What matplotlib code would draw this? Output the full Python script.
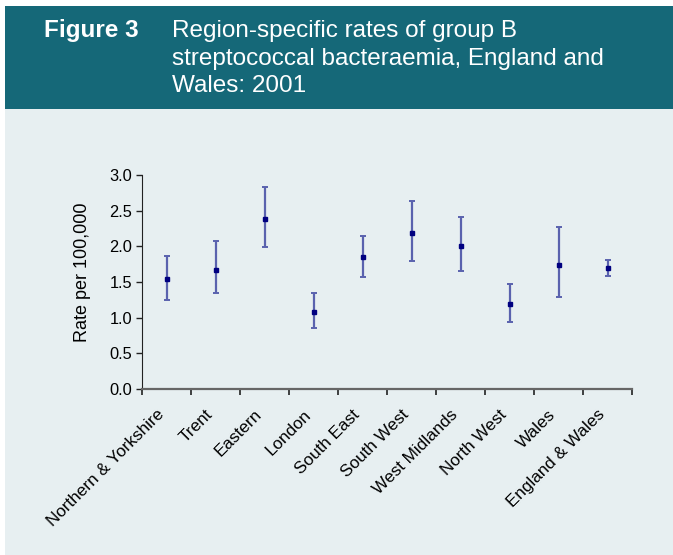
import numpy as np
import matplotlib
matplotlib.use("Agg")
import matplotlib.pyplot as plt
from matplotlib.patches import Rectangle
from matplotlib.transforms import ScaledTranslation

plt.rcParams['font.family'] = ['Liberation Sans', 'DejaVu Sans']

regions = ["Northern & Yorkshire", "Trent", "Eastern", "London", "South East",
           "South West", "West Midlands", "North West", "Wales", "England & Wales"]
rate = [1.54, 1.67, 2.38, 1.08, 1.85, 2.19, 2.01, 1.19, 1.74, 1.70]
ci_low = [1.25, 1.34, 1.99, 0.86, 1.57, 1.80, 1.65, 0.94, 1.29, 1.59]
ci_high = [1.87, 2.07, 2.83, 1.34, 2.15, 2.64, 2.42, 1.47, 2.27, 1.81]
yticks = [0.0, 0.5, 1.0, 1.5, 2.0, 2.5, 3.0]

title_lines = ["Region-specific rates of group B",
               "streptococcal bacteraemia, England and",
               "Wales: 2001"]

W, H = 673, 555
fig = plt.figure(figsize=(W/100, H/100), dpi=100)
fig.patch.set_facecolor('white')

# header band and light panel
fig.patches.append(Rectangle((5/W, 0), 1-5/W, (H-109)/H, transform=fig.transFigure,
                             facecolor='#e7eff1', edgecolor='none', zorder=-10))
fig.patches.append(Rectangle((5/W, (H-109)/H), 1-5/W, 103/H, transform=fig.transFigure,
                             facecolor='#156878', edgecolor='none', zorder=-10))

fig.text(44/W, 1-36.7/H, "Figure 3", color='white', fontsize=17.5,
         fontweight='bold', va='baseline', ha='left')
for i, line in enumerate(title_lines):
    fig.text(172/W, 1-(36.7+27.8*i)/H, line, color='white', fontsize=17.5,
             va='baseline', ha='left')

ax = fig.add_axes([142/W, (H-388.7)/H, 490/W, (388.7-175.3)/H])
ax.set_facecolor('none')

x = np.arange(len(regions))
rate_a = np.array(rate)
yerr = [rate_a-np.array(ci_low), np.array(ci_high)-rate_a]
_, caps, _ = ax.errorbar(x, rate, yerr=yerr, fmt='s', color='#000080', markersize=3.5,
                         ecolor='#5a62ae', elinewidth=1.6, capsize=2.3, capthick=1.4)
for c in caps:
    c.set_color('#000080')

ax.set_xlim(-0.5, len(regions)-0.5)
ax.set_ylim(0, 3.0)
ax.set_yticks(yticks)
ax.set_yticklabels([f"{v:.1f}" for v in yticks], fontsize=11.8)
ax.set_xticks(np.arange(len(regions)+1)-0.5)
ax.set_xticklabels([])
ax.set_xticks(x, minor=True)
ax.set_xticklabels(regions, minor=True, rotation=45, ha='right', va='center',
                   rotation_mode='anchor', fontsize=12.3)
ax.tick_params(axis='x', which='minor', length=0, pad=17)
ax.tick_params(axis='x', which='major', length=4, width=1.2, color='#222222')
ax.tick_params(axis='y', length=4, width=1.0, color='#222222', pad=3)

# nudge the slanted labels a little to the left, as in the original
shift = ScaledTranslation(-5/100, 0, fig.dpi_scale_trans)
for lbl in ax.get_xticklabels(minor=True):
    lbl.set_transform(lbl.get_transform() + shift)

for s in ['top', 'right']:
    ax.spines[s].set_visible(False)
ax.spines['left'].set_color('#222222')
ax.spines['bottom'].set_color('#666666')
ax.spines['bottom'].set_linewidth(1.6)

ax.set_ylabel("Rate per 100,000", fontsize=13)
ax.yaxis.set_label_coords(-0.104, 0.547)

fig.savefig("out.png", dpi=100)
